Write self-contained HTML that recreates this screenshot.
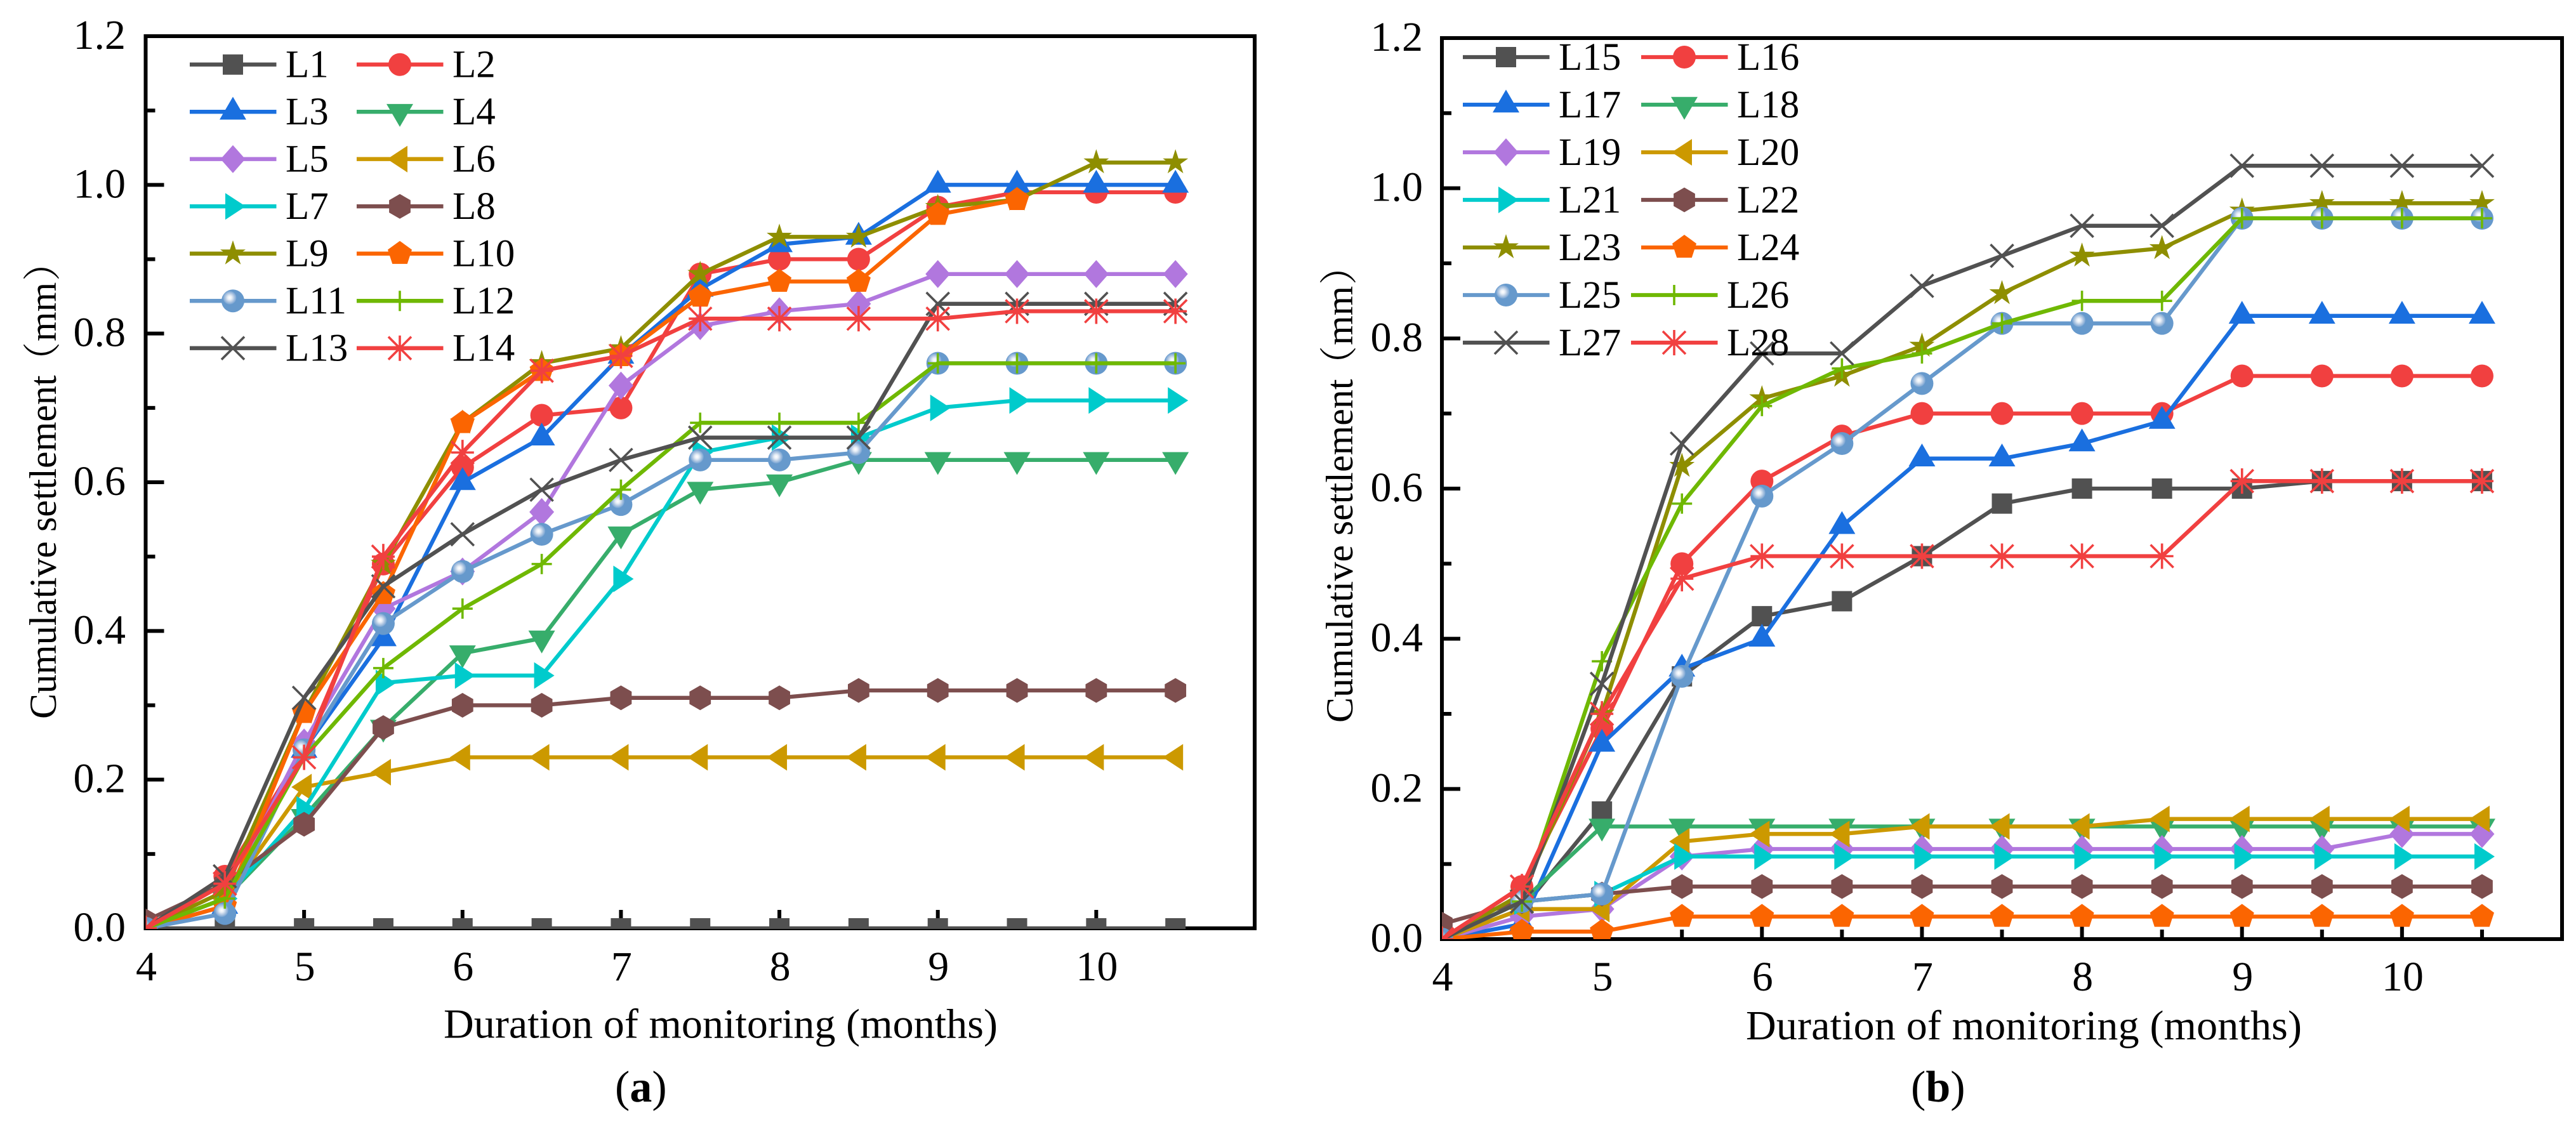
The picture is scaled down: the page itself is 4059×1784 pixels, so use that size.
<!DOCTYPE html>
<html lang="en">
<head>
<meta charset="utf-8">
<title>Cumulative settlement charts</title>
<style>
html,body{margin:0;padding:0;background:#fff;}
svg{display:block;}
text{font-family:"Liberation Serif","Noto Serif CJK SC",serif;fill:#000;}
</style>
</head>
<body>
<svg id="figure" xmlns="http://www.w3.org/2000/svg" width="4059" height="1784" viewBox="0 0 4059 1784">
  <defs>
    <radialGradient id="ball-gradient" cx="0.36" cy="0.36" r="0.3">
      <stop offset="0" stop-color="#ffffff"/>
      <stop offset="0.3" stop-color="#e8eff7"/>
      <stop offset="0.6" stop-color="#b8cce4"/>
      <stop offset="0.95" stop-color="#7ba6d4"/>
      <stop offset="1" stop-color="#6699cc"/>
    </radialGradient>
    <clipPath id="clip-a"><rect x="229.5" y="57" width="1747.5" height="1407"/></clipPath>
    <clipPath id="clip-b"><rect x="2272" y="60" width="1765" height="1420"/></clipPath>
  </defs>
  <g id="panel-a">
    <text transform="translate(88 1133) rotate(-90)" font-size="60"><tspan x="0">Cumulative settlement</tspan><tspan x="534">（</tspan><tspan x="595">mm</tspan><tspan x="690">）</tspan></text>
    <text x="699" y="1635.5" font-size="66" textLength="873" lengthAdjust="spacing">Duration of monitoring (months)</text>
    <text x="969" y="1736" font-size="70">(<tspan font-weight="bold">a</tspan>)</text>
  </g>
  <g id="panel-b">
    <text transform="translate(2131 1139) rotate(-90)" font-size="60"><tspan x="0">Cumulative settlement</tspan><tspan x="534">（</tspan><tspan x="595">mm</tspan><tspan x="690">）</tspan></text>
    <text x="2751" y="1638" font-size="66" textLength="876" lengthAdjust="spacing">Duration of monitoring (months)</text>
    <text x="3011" y="1736" font-size="70">(<tspan font-weight="bold">b</tspan>)</text>
  </g>
</svg>
<script>
// ---- shared categories and tick labels ----
const months = [4, 4.5, 5, 5.5, 6, 6.5, 7, 7.5, 8, 8.5, 9, 9.5, 10, 10.5];
const xTickLabels = [4, 5, 6, 7, 8, 9, 10];
const xMinorTicks = [4.5, 5.5, 6.5, 7.5, 8.5, 9.5, 10.5];
const yTickLabels = ["0.0", "0.2", "0.4", "0.6", "0.8", "1.0", "1.2"];
const yMinorTicks = [0.1, 0.3, 0.5, 0.7, 0.9, 1.1];

// ---- panel (a) series ----
const namesA = ["L1","L2","L3","L4","L5","L6","L7","L8","L9","L10","L11","L12","L13","L14"];
const L1  = [0,0,0,0,0,0,0,0,0,0,0,0,0,0];
const L2  = [0,0.07,0.24,0.49,0.62,0.69,0.70,0.88,0.90,0.90,0.97,0.99,0.99,0.99];
const L3  = [0,0.03,0.24,0.39,0.60,0.66,0.77,0.86,0.92,0.93,1.00,1.00,1.00,1.00];
const L4  = [0,0.04,0.15,0.27,0.37,0.39,0.53,0.59,0.60,0.63,0.63,0.63,0.63,0.63];
const L5  = [0,0.04,0.25,0.43,0.48,0.56,0.73,0.81,0.83,0.84,0.88,0.88,0.88,0.88];
const L6  = [0,0.04,0.19,0.21,0.23,0.23,0.23,0.23,0.23,0.23,0.23,0.23,0.23,0.23];
const L7  = [0,0.04,0.16,0.33,0.34,0.34,0.47,0.64,0.66,0.66,0.70,0.71,0.71,0.71];
const L8  = [0.01,0.06,0.14,0.27,0.30,0.30,0.31,0.31,0.31,0.32,0.32,0.32,0.32,0.32];
const L9  = [0,0.05,0.29,0.49,0.68,0.76,0.78,0.88,0.93,0.93,0.97,0.98,1.03,1.03];
const L10 = [0,0.03,0.29,0.45,0.68,0.75,0.77,0.85,0.87,0.87,0.96,0.98];
const L11 = [0,0.02,0.24,0.41,0.48,0.53,0.57,0.63,0.63,0.64,0.76,0.76,0.76,0.76];
const L12 = [0,0.04,0.23,0.35,0.43,0.49,0.59,0.68,0.68,0.68,0.76,0.76,0.76,0.76];
const L13 = [0,0.07,0.31,0.46,0.53,0.59,0.63,0.66,0.66,0.66,0.84,0.84,0.84,0.84];
const L14 = [0,0.06,0.23,0.50,0.64,0.75,0.77,0.82,0.82,0.82,0.82,0.83,0.83,0.83];
const seriesA = [L1,L2,L3,L4,L5,L6,L7,L8,L9,L10,L11,L12,L13,L14];

// ---- panel (b) series ----
const namesB = ["L15","L16","L17","L18","L19","L20","L21","L22","L23","L24","L25","L26","L27","L28"];
const L15 = [0,0.04,0.17,0.35,0.43,0.45,0.51,0.58,0.60,0.60,0.60,0.61,0.61,0.61];
const L16 = [0,0.07,0.28,0.50,0.61,0.67,0.70,0.70,0.70,0.70,0.75,0.75,0.75,0.75];
const L17 = [0,0.02,0.26,0.36,0.40,0.55,0.64,0.64,0.66,0.69,0.83,0.83,0.83,0.83];
const L18 = [0,0.05,0.15,0.15,0.15,0.15,0.15,0.15,0.15,0.15,0.15,0.15,0.15,0.15];
const L19 = [0,0.03,0.04,0.11,0.12,0.12,0.12,0.12,0.12,0.12,0.12,0.12,0.14,0.14];
const L20 = [0,0.04,0.04,0.13,0.14,0.14,0.15,0.15,0.15,0.16,0.16,0.16,0.16,0.16];
const L21 = [0,0.05,0.06,0.11,0.11,0.11,0.11,0.11,0.11,0.11,0.11,0.11,0.11,0.11];
const L22 = [0.02,0.05,0.06,0.07,0.07,0.07,0.07,0.07,0.07,0.07,0.07,0.07,0.07,0.07];
const L23 = [0,0.06,0.30,0.63,0.72,0.75,0.79,0.86,0.91,0.92,0.97,0.98,0.98,0.98];
const L24 = [0,0.01,0.01,0.03,0.03,0.03,0.03,0.03,0.03,0.03,0.03,0.03,0.03,0.03];
const L25 = [0,0.05,0.06,0.35,0.59,0.66,0.74,0.82,0.82,0.82,0.96,0.96,0.96,0.96];
const L26 = [0,0.05,0.37,0.58,0.71,0.76,0.78,0.82,0.85,0.85,0.96,0.96,0.96,0.96];
const L27 = [0,0.05,0.34,0.66,0.78,0.78,0.87,0.91,0.95,0.95,1.03,1.03,1.03,1.03];
const L28 = [0,0.07,0.30,0.48,0.51,0.51,0.51,0.51,0.51,0.51,0.61,0.61,0.61,0.61];
const seriesB = [L15,L16,L17,L18,L19,L20,L21,L22,L23,L24,L25,L26,L27,L28];

// ---- presentation ----
const colors = ["#515151","#F14040","#1A6FDF","#37AD6B","#B177DE","#CC9900","#00CBCC","#7D4E4E","#8E8E00","#FB6501","#6699CC","#6FB802","#515151","#F14040"];
const markerKinds = ["square","circle","up","down","diamond","left","right","hexagon","star","pentagon","ball","plus","cross","asterisk"];
const NS = "http://www.w3.org/2000/svg";

function make(tag, attrs, parent) {
  const el = document.createElementNS(NS, tag);
  for (const k in attrs) el.setAttribute(k, attrs[k]);
  if (parent) parent.appendChild(el);
  return el;
}
function regular(n, rx, ry, start) {
  let d = "";
  for (let i = 0; i < n; i++) {
    const a = start + i * 2 * Math.PI / n;
    d += (i ? "L" : "M") + (rx * Math.cos(a)).toFixed(2) + " " + (ry * Math.sin(a)).toFixed(2);
  }
  return d + "Z";
}
function starPath() {
  let d = "";
  for (let i = 0; i < 10; i++) {
    const r = i % 2 ? 8 : 21;
    const a = -Math.PI / 2 + i * Math.PI / 5;
    d += (i ? "L" : "M") + (r * Math.cos(a)).toFixed(2) + " " + (r * Math.sin(a)).toFixed(2);
  }
  return d + "Z";
}
const markerPaths = {
  square: "M-16 -16H16V16H-16Z",
  up: "M0 -23.7L21 12.3H-21Z",
  down: "M0 23.7L21 -12.3H-21Z",
  left: "M-20 0L12 -21V21Z",
  right: "M20 0L-12 -21V21Z",
  diamond: "M0 -22L19.5 0L0 22L-19.5 0Z",
  hexagon: regular(6, 19.5, 19.5, -Math.PI / 2),
  star: starPath(),
  pentagon: regular(5, 20, 20, -Math.PI / 2)
};
function drawMarker(kind, color, x, y, parent) {
  const t = "translate(" + x + " " + y + ")";
  let el;
  if (kind === "circle") {
    el = make("circle", { cx: x, cy: y, r: 18, fill: color }, parent);
  } else if (kind === "ball") {
    el = make("circle", { cx: x, cy: y, r: 18, fill: "url(#ball-gradient)" }, parent);
  } else if (kind === "plus") {
    el = make("path", { d: "M-16 0H16M0 -16V16", transform: t, stroke: color, "stroke-width": 3.6, fill: "none" }, parent);
  } else if (kind === "cross") {
    el = make("path", { d: "M-18 -18L18 18M-18 18L18 -18", transform: t, stroke: color, "stroke-width": 3.6, fill: "none" }, parent);
  } else if (kind === "asterisk") {
    el = make("path", { d: "M-18 -18L18 18M-18 18L18 -18M0 -20V20M-18 0H18", transform: t, stroke: color, "stroke-width": 3.6, fill: "none" }, parent);
  } else {
    el = make("path", { d: markerPaths[kind], transform: t, fill: color }, parent);
  }
  return el;
}

function drawPanel(cfg) {
  const root = document.getElementById(cfg.id);
  const xScale = v => cfg.left + (v - 4) * (cfg.right - cfg.left) / 7;
  const yScale = v => cfg.bottom - v * (cfg.bottom - cfg.top) / 1.2;

  // axis frame and ticks
  const axes = make("g", {}, root);
  
  
  const frame = make("rect", { x: cfg.left, y: cfg.top, width: cfg.right - cfg.left, height: cfg.bottom - cfg.top, fill: "none", stroke: "#000", "stroke-width": 6 }, axes);
  
  

  xTickLabels.forEach(v => {
    const x = xScale(v);
    const tick = make("line", { x1: x, x2: x, y1: cfg.bottom, y2: cfg.bottom - 29, stroke: "#000", "stroke-width": 6 }, axes);
    
    
    const label = make("text", { x: x + 1, y: cfg.xLabelY, "font-size": 66, "text-anchor": "middle" }, axes);
    
    
    label.textContent = v;
  });
  xMinorTicks.forEach(v => {
    const x = xScale(v);
    const tick = make("line", { x1: x, x2: x, y1: cfg.bottom, y2: cfg.bottom - 15, stroke: "#000", "stroke-width": 6 }, axes);
    
    
  });
  yTickLabels.forEach(s => {
    const y = yScale(parseFloat(s));
    const tick = make("line", { x1: cfg.left, x2: cfg.left + 29, y1: y, y2: y, stroke: "#000", "stroke-width": 6 }, axes);
    
    
    const label = make("text", { x: cfg.yLabelX, y: y + 20, "font-size": 66, "text-anchor": "end" }, axes);
    
    
    label.textContent = s;
  });
  yMinorTicks.forEach(v => {
    const y = yScale(v);
    const tick = make("line", { x1: cfg.left, x2: cfg.left + 15, y1: y, y2: y, stroke: "#000", "stroke-width": 6 }, axes);
    
    
  });

  // series: lines and markers, clipped to the plot area
  const plot = make("g", { "clip-path": "url(#clip-" + cfg.tag + ")" }, root);
  
  
  cfg.series.forEach((values, i) => {
    const g = make("g", {}, plot);
    
    
    const pts = values.map((v, j) => xScale(months[j]).toFixed(1) + "," + yScale(v).toFixed(1)).join(" ");
    const line = make("polyline", { points: pts, fill: "none", stroke: colors[i], "stroke-width": 6.3, "stroke-linejoin": "round" }, g);
    
    
    values.forEach((v, j) => {
      const m = drawMarker(markerKinds[i], colors[i], xScale(months[j]), yScale(v), g);
      
      
    });
  });

  // legend
  const legend = make("g", {}, root);
  
  
  cfg.names.forEach((name, i) => {
    const row = Math.floor(i / 2);
    const col = i % 2;
    const shift = col === 1 && row >= cfg.shiftRow ? cfg.shiftX : 0;
    const y = cfg.legendTop + row * cfg.legendStep;
    const x0 = cfg.legendX[col] + shift;
    const entry = make("g", {}, legend);
    
    
    make("line", { x1: x0, x2: x0 + 136.5, y1: y, y2: y, stroke: colors[i], "stroke-width": 6.3 }, entry);
    drawMarker(markerKinds[i], colors[i], x0 + 68, y, entry);
    const label = make("text", { x: x0 + 151, y: y + 20, "font-size": 61 }, entry);
    
    
    label.textContent = name;
  });
}

drawPanel({
  id: "panel-a", tag: "a", series: seriesA, names: namesA,
  left: 229.5, right: 1977, top: 57, bottom: 1463,
  xLabelY: 1545, yLabelX: 198,
  legendX: [299, 562], legendTop: 101.7, legendStep: 74.5, shiftRow: 99, shiftX: 0
});
drawPanel({
  id: "panel-b", tag: "b", series: seriesB, names: namesB,
  left: 2272, right: 4037, top: 60, bottom: 1480,
  xLabelY: 1561, yLabelX: 2242,
  legendX: [2305, 2586], legendTop: 90, legendStep: 75, shiftRow: 5, shiftX: -16
});
</script>
</body>
</html>
